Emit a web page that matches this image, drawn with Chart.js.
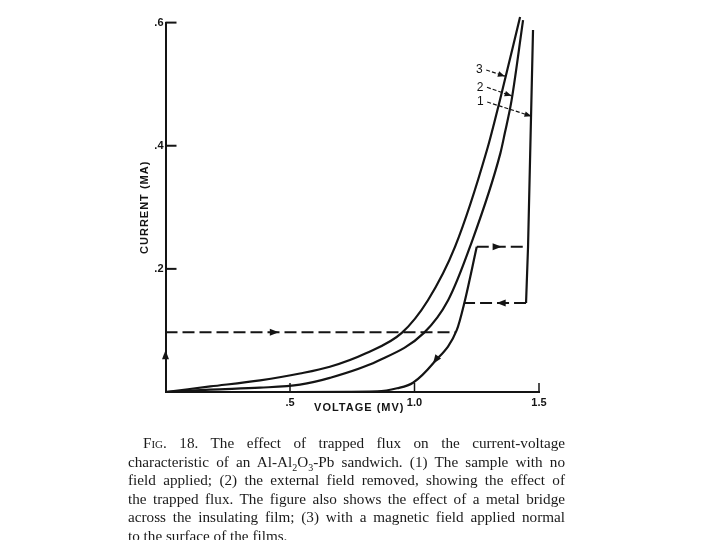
<!DOCTYPE html>
<html>
<head>
<meta charset="utf-8">
<script src="https://cdn.jsdelivr.net/npm/chart.js@4.4.1/dist/chart.umd.min.js"></script>
<style>
  html, body { margin: 0; padding: 0; background: #fff; }
  #wrap { position: relative; width: 720px; height: 540px; overflow: hidden; }
  #fig { position: absolute; left: 0; top: 0; }
  #caption {
    position: absolute; left: 128px; top: 434px; width: 437px;
    font-family: 'Liberation Serif', 'DejaVu Serif', serif;
    font-size: 15.2px; line-height: 18.5px; color: #1a1a1a;
  }
  #caption div { text-align: justify; text-align-last: justify; }
  #caption div.first { padding-left: 15px; }
  #caption div.last { text-align-last: left; }
  .sc { font-variant: small-caps; }
  sub { font-size: 10px; line-height: 0; }
</style>
</head>
<body>
<div id="wrap">
  <canvas id="fig" width="720" height="540"></canvas>
  <div id="caption">
    <div class="first"><span class="sc">Fig.</span> 18. The effect of trapped flux on the current-voltage</div>
    <div>characteristic of an Al-Al<sub>2</sub>O<sub>3</sub>-Pb sandwich. (1) The sample with no</div>
    <div>field applied; (2) the external field removed, showing the effect of</div>
    <div>the trapped flux. The figure also shows the effect of a metal bridge</div>
    <div>across the insulating film; (3) with a magnetic field applied normal</div>
    <div class="last">to the surface of the films.</div>
  </div>
</div>
<script>
/* Fig. 18 — I-V characteristic of Al-Al2O3-Pb, trapped flux */

const INK = '#141414';
const TICK_FONT = "'Liberation Sans Narrow', 'Liberation Sans', sans-serif";

/* ── data (voltage in mV, current in mA) ─────────────────────── */

const xTicks = [0.5, 1.0, 1.5];
const xTickLabels = ['.5', '1.0', '1.5'];
const yTicks = [0.2, 0.4, 0.6];
const yTickLabels = ['.2', '.4', '.6'];

const xTitle = 'VOLTAGE (MV)';
const yTitle = 'CURRENT (MA)';

// (3) magnetic field applied normal to the films
const curve3V = [0, 0.18, 0.38, 0.54, 0.66, 0.805, 0.949, 1.054, 1.163, 1.291, 1.343, 1.424];
const curve3I = [0, 0.009, 0.019, 0.030, 0.041, 0.063, 0.096, 0.149, 0.236, 0.393, 0.474, 0.609];

// (2) external field removed (trapped flux)
const curve2V = [0, 0.18, 0.38, 0.54, 0.66, 0.85, 1.038, 1.135, 1.223, 1.345, 1.363, 1.39, 1.436];
const curve2I = [0, 0.004, 0.007, 0.012, 0.023, 0.050, 0.096, 0.149, 0.236, 0.388, 0.421, 0.474, 0.604];

// (1) no field applied
const curve1V = [0, 0.5, 0.85, 0.93, 0.994, 1.076, 1.17, 1.2, 1.25];
const curve1I = [0, 0, 0.001, 0.006, 0.015, 0.047, 0.101, 0.1445, 0.236];

// metal bridge loop
const bridgeV = [1.448, 1.456, 1.476];
const bridgeI = [0.1445, 0.236, 0.588];
const upperDashV = [1.25, 1.456];
const upperDashI = [0.236, 0.236];
const lowerDashV = [1.448, 1.2];
const lowerDashI = [0.1445, 0.1445];
const lowDashV = [0, 1.165];
const lowDashI = [0.097, 0.097];

// arrowheads: [fromV, fromI, tipV, tipI]
const arrows = [
  [0, 0.045, 0, 0.068],
  [0.40, 0.097, 0.455, 0.097],
  [1.11, 0.066, 1.074, 0.046],
  [1.30, 0.236, 1.35, 0.236],
  [1.38, 0.1445, 1.33, 0.1445],
];

// curve number labels and leaders
const curveLabels = ['3', '2', '1'];
const labelAt = [[1.26, 0.523], [1.263, 0.495], [1.264, 0.471]];
const leaderTo = [[1.363, 0.513], [1.39, 0.481], [1.47, 0.448]];

/* ── helpers ──────────────────────────────────────────────────── */

function pts(xs, ys) {
  return xs.map((v, i) => ({ x: v, y: ys[i] }));
}

function solid(xs, ys, smooth) {
  return {
    data: pts(xs, ys), showLine: true, pointRadius: 0,
    borderColor: INK, borderWidth: 2.2, clip: false,
    cubicInterpolationMode: smooth ? 'monotone' : 'default', tension: 0,
  };
}

function dashed(xs, ys) {
  return {
    data: pts(xs, ys), showLine: true, pointRadius: 0,
    borderColor: INK, borderWidth: 2, borderDash: [12, 5], clip: false,
  };
}

function head(ctx, x0, y0, x1, y1, len, half) {
  const a = Math.atan2(y1 - y0, x1 - x0);
  ctx.beginPath();
  ctx.moveTo(x1, y1);
  ctx.lineTo(x1 - len * Math.cos(a) + half * Math.sin(a), y1 - len * Math.sin(a) - half * Math.cos(a));
  ctx.lineTo(x1 - len * Math.cos(a) - half * Math.sin(a), y1 - len * Math.sin(a) + half * Math.cos(a));
  ctx.closePath();
  ctx.fill();
}

const decor = {
  id: 'decor',
  afterDatasetsDraw(chart) {
    const { ctx, chartArea: a, scales: { x, y } } = chart;
    const px = v => x.getPixelForValue(v);
    const py = c => y.getPixelForValue(c);
    ctx.save();
    ctx.strokeStyle = INK;
    ctx.fillStyle = INK;

    /* inward tick marks */
    ctx.lineWidth = 2;
    yTicks.forEach(t => {
      ctx.beginPath(); ctx.moveTo(a.left, py(t)); ctx.lineTo(a.left + 11, py(t)); ctx.stroke();
    });
    ctx.lineWidth = 1.5;
    xTicks.forEach(t => {
      ctx.beginPath(); ctx.moveTo(px(t), a.bottom); ctx.lineTo(px(t), a.bottom - 9); ctx.stroke();
    });

    /* direction arrows */
    arrows.forEach(([v0, i0, v1, i1]) => head(ctx, px(v0), py(i0), px(v1), py(i1), 9, 3.5));

    /* curve numbers with leader arrows */
    ctx.font = "12px 'Liberation Sans', sans-serif";
    ctx.textAlign = 'center';
    ctx.textBaseline = 'middle';
    curveLabels.forEach((t, k) => {
      const lx = px(labelAt[k][0]), ly = py(labelAt[k][1]);
      const tx = px(leaderTo[k][0]), ty = py(leaderTo[k][1]);
      ctx.fillText(t, lx, ly);
      ctx.save();
      ctx.lineWidth = 1.2;
      ctx.setLineDash([4, 2]);
      ctx.beginPath(); ctx.moveTo(lx + 7, ly); ctx.lineTo(tx, ty); ctx.stroke();
      ctx.restore();
      head(ctx, lx + 7, ly, tx, ty, 7, 2.8);
    });

    /* axis titles */
    ctx.font = "bold 11px " + TICK_FONT;
    ctx.letterSpacing = '1px';
    ctx.fillText(xTitle, (a.left + a.right) / 2 + 7, a.bottom + 16);
    ctx.translate(a.left - 21, (a.top + a.bottom) / 2);
    ctx.rotate(-Math.PI / 2);
    ctx.fillText(yTitle, 0, 0);
    ctx.restore();
  },
};

/* ── chart ────────────────────────────────────────────────────── */

new Chart(document.getElementById('fig'), {
  type: 'scatter',
  data: {
    datasets: [
      solid(curve3V, curve3I, true),
      solid(curve2V, curve2I, true),
      solid(curve1V, curve1I, true),
      solid(bridgeV, bridgeI, false),
      dashed(upperDashV, upperDashI),
      dashed(lowerDashV, lowerDashI),
      dashed(lowDashV, lowDashI),
    ],
  },
  options: {
    responsive: false,
    animation: false,
    devicePixelRatio: 1,
    layout: { padding: { left: 120.5, right: 181, top: 22.6, bottom: 118 } },
    plugins: { legend: { display: false }, tooltip: { enabled: false } },
    scales: {
      x: {
        type: 'linear', min: 0, max: 1.5,
        grid: { display: false, drawTicks: false },
        border: { display: true, color: INK, width: 2 },
        afterBuildTicks: s => { s.ticks = xTicks.map(v => ({ value: v })); },
        afterFit: s => { s.height = 30; },
        ticks: {
          color: INK, padding: 4, maxRotation: 0, autoSkip: false,
          font: { family: TICK_FONT, size: 11, weight: 'bold' },
          callback: v => xTickLabels[xTicks.indexOf(v)],
        },
      },
      y: {
        type: 'linear', min: 0, max: 0.6,
        grid: { display: false, drawTicks: false },
        border: { display: true, color: INK, width: 2 },
        afterBuildTicks: s => { s.ticks = yTicks.map(v => ({ value: v })); },
        afterFit: s => { s.width = 45; },
        ticks: {
          color: INK, padding: 2, autoSkip: false,
          font: { family: TICK_FONT, size: 11, weight: 'bold' },
          callback: v => yTickLabels[yTicks.indexOf(v)],
        },
      },
    },
  },
  plugins: [decor],
});
</script>
</body>
</html>
